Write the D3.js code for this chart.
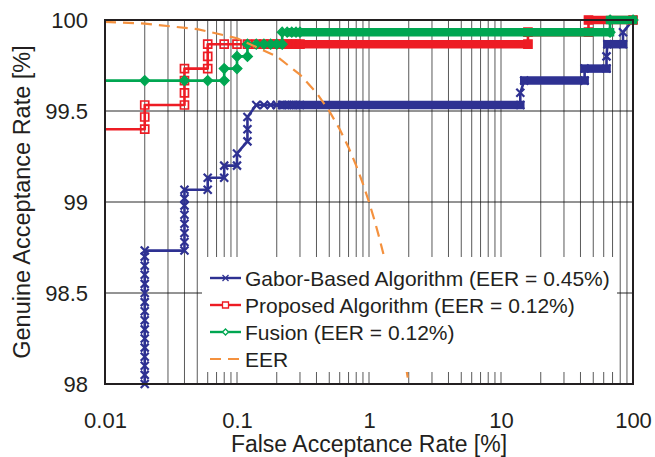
<!DOCTYPE html>
<html><head><meta charset="utf-8">
<script src="https://cdn.jsdelivr.net/npm/d3@7"></script>
<style>
html,body{margin:0;padding:0;background:#fff;}
svg{display:block;}
text{font-family:"Liberation Sans",Arial,sans-serif;fill:#231f20;}
</style></head><body>
<svg id="chart" width="655" height="457"></svg>
<script>
// ---------- data ----------
const xTickValues = [0.01, 0.1, 1, 10, 100];
const xTickLabels = ["0.01", "0.1", "1", "10", "100"];
const yTickValues = [98, 98.5, 99, 99.5, 100];
const yTickLabels = ["98", "98.5", "99", "99.5", "100"];
const seriesNames = ["Gabor-Based Algorithm (EER = 0.45%)", "Proposed Algorithm (EER = 0.12%)", "Fusion (EER = 0.12%)", "EER"];
const xTitle = "False Acceptance Rate [%]";
const yTitle = "Genuine Acceptance Rate [%]";

// Gabor-based algorithm: FAR (%) / GAR (%)
const gaborFAR = [0.02,0.02,0.02,0.02,0.02,0.02,0.02,0.02,0.02,0.02,0.02,0.02,0.02,0.02,0.02,0.02,
  0.04,0.04,0.04,0.04,0.04,0.04,0.04,0.04,
  0.06,0.06,0.08,0.08,0.10,0.10,0.12,0.12,0.12,
  0.14,0.16,0.18,0.20,0.22,0.24,0.26,0.28,0.30,
  14,14,15,43,43,63,63,64,84,84,100];
const gaborGAR = [98.00,98.05,98.10,98.15,98.20,98.25,98.30,98.35,98.40,98.45,98.50,98.55,98.60,98.65,98.70,98.733,
  98.733,98.78,98.83,98.88,98.93,98.98,99.02,99.067,
  99.067,99.133,99.133,99.20,99.20,99.267,99.333,99.40,99.467,
  99.533,99.533,99.533,99.533,99.533,99.533,99.533,99.533,99.533,
  99.533,99.60,99.667,99.667,99.733,99.733,99.80,99.867,99.867,99.933,100];
// dense runs of points: [FAR from, FAR to, GAR]
const gaborDense = [[0.22,14,99.533],[15,43,99.667],[43,63,99.733],[64,84,99.867]];

// Proposed algorithm
const propFAR = [0.01,0.02,0.02,0.02,0.04,0.04,0.04,0.04,0.06,0.06,0.06,
  0.08,0.10,0.12,0.14,0.16,0.18,0.20,0.22,0.24,0.26,0.28,0.30,
  16,16,46,46,100];
const propGAR = [99.40,99.40,99.467,99.533,99.533,99.60,99.667,99.733,99.733,99.80,99.867,
  99.867,99.867,99.867,99.867,99.867,99.867,99.867,99.867,99.867,99.867,99.867,99.867,
  99.867,99.933,99.933,100,100];
const propDense = [[0.18,16,99.867],[16,46,99.933],[46,100,100]];

// Fusion
const fusFAR = [0.01,0.02,0.04,0.06,0.08,0.08,0.10,0.10,0.12,0.12,
  0.14,0.16,0.18,0.20,0.22,0.22,0.24,0.26,0.28,0.30,67,67,100];
const fusGAR = [99.667,99.667,99.667,99.667,99.667,99.733,99.733,99.80,99.80,99.867,
  99.867,99.867,99.867,99.867,99.867,99.933,99.933,99.933,99.933,99.933,99.933,100,100];
const fusDense = [[0.26,67,99.933],[67,100,100]];

// EER line (FAR = FRR)
const eerFAR = [0.01,0.02,0.05,0.1,0.2,0.3,0.4,0.5,0.6,0.7,0.8,0.9,1.0,1.1,1.2,1.3,1.4,1.5,1.6,1.7,1.8,1.9,2.0,2.1];
const eerGAR = [99.99,99.98,99.95,99.9,99.8,99.7,99.6,99.5,99.4,99.3,99.2,99.1,99.0,98.9,98.8,98.7,98.6,98.5,98.4,98.3,98.2,98.1,98.0,97.9];

// ---------- chart ----------
const svg = d3.select("#chart");
const L = 105, R = 633, T = 20, B = 384;
const x = d3.scaleLog().domain([0.01, 100]).range([L, R]);
const y = d3.scaleLinear().domain([98, 100]).range([B, T]);

const colors = {gabor:"#2e3192", prop:"#ed1c24", fus:"#00a651", eer:"#f4913e"};

// grid
const grid = svg.append("g");
grid.selectAll("line.v").data(x.ticks()).join("line")
  .attr("x1", d => x(d)).attr("x2", d => x(d)).attr("y1", T).attr("y2", B)
  .attr("stroke", "#222").attr("stroke-width", 0.75);
grid.selectAll("line.h").data(yTickValues.slice(1, -1)).join("line")
  .attr("x1", L).attr("x2", R).attr("y1", d => y(d)).attr("y2", d => y(d))
  .attr("stroke", "#111").attr("stroke-width", 0.9);

// axes
const xAxis = d3.axisBottom(x).tickValues(xTickValues).tickSize(0).tickPadding(0)
  .tickFormat((d, i) => xTickLabels[i]);
const gx = svg.append("g").attr("transform", `translate(0,${B})`).call(xAxis);
gx.select(".domain").remove();
gx.selectAll("text").attr("y", 44).attr("dy", 0).style("font-size", "22px")
  .style("font-family", '"Liberation Sans",Arial,sans-serif').attr("fill", "#231f20");

const yAxis = d3.axisLeft(y).tickValues(yTickValues).tickSize(0).tickPadding(0)
  .tickFormat((d, i) => yTickLabels[i]);
const gy = svg.append("g").attr("transform", `translate(${L},0)`).call(yAxis);
gy.select(".domain").remove();
gy.selectAll("text").attr("x", -17).attr("dy", "0.36em").style("font-size", "22px")
  .style("font-family", '"Liberation Sans",Arial,sans-serif').attr("fill", "#231f20");

// titles
svg.append("text").attr("x", (L + R) / 2).attr("y", 452).attr("text-anchor", "middle")
  .style("font-size", "23px").text(xTitle);
svg.append("text").attr("transform", `translate(30,${(T + B) / 2}) rotate(-90)`)
  .attr("text-anchor", "middle").style("font-size", "23.5px").text(yTitle);

// marker paths
function markerPath(type, s) {
  const h = s / 2;
  if (type === "x") return `M${-h},${-h}L${h},${h}M${-h},${h}L${h},${-h}`;
  if (type === "square") return `M${-h},${-h}H${h}V${h}H${-h}Z`;
  if (type === "diamond") return `M0,${-h}L${h},0L0,${h}L${-h},0Z`;
}

const line = d3.line().x(d => x(d[0])).y(d => y(d[1]));
const series = [
  {key:"gabor", far:gaborFAR, gar:gaborGAR, dense:gaborDense, marker:"x", size:8, fill:"none", sw:2.2},
  {key:"prop", far:propFAR, gar:propGAR, dense:propDense, marker:"square", size:8, fill:"none", sw:1.7},
  {key:"fus", far:fusFAR, gar:fusGAR, dense:fusDense, marker:"diamond", size:10, fill:colors.fus, sw:1.2}
];

series.forEach(s => {
  const pts = s.far.map((f, i) => [f, s.gar[i]]);
  const g = svg.append("g");
  g.append("path").attr("d", line(pts)).attr("fill", "none")
    .attr("stroke", colors[s.key]).attr("stroke-width", 2.6).attr("stroke-linejoin", "round");
  g.selectAll("line.dense").data(s.dense).join("line")
    .attr("x1", d => x(d[0])).attr("x2", d => x(d[1]))
    .attr("y1", d => y(d[2])).attr("y2", d => y(d[2]))
    .attr("stroke", colors[s.key]).attr("stroke-width", 8.5).attr("stroke-linecap", "square");
  g.selectAll("path.m").data(pts.filter(p => p[0] > 0.01)).join("path")
    .attr("transform", d => `translate(${x(d[0])},${y(d[1])})`)
    .attr("d", markerPath(s.marker, s.size))
    .attr("fill", s.fill).attr("stroke", colors[s.key]).attr("stroke-width", s.sw);
});

// EER
const eerPts = eerFAR.map((f, i) => [f, eerGAR[i]]);
svg.append("clipPath").attr("id", "plotclip").append("rect")
  .attr("x", L).attr("y", T - 2).attr("width", R - L).attr("height", B - T + 2);
svg.append("path").attr("d", line(eerPts)).attr("clip-path", "url(#plotclip)")
  .attr("fill", "none").attr("stroke", colors.eer).attr("stroke-width", 2.2)
  .attr("stroke-dasharray", "11,7");

// frame
svg.append("rect").attr("x", L).attr("y", T).attr("width", R - L).attr("height", B - T)
  .attr("fill", "none").attr("stroke", "#231f20").attr("stroke-width", 2);

// legend
const lg = svg.append("g");
lg.append("rect").attr("x", 202).attr("y", 257).attr("width", 415).attr("height", 115).attr("fill", "#fff");
const legendItems = [
  {name:seriesNames[0], key:"gabor", marker:"x", size:6, fill:"none", sw:1.3},
  {name:seriesNames[1], key:"prop", marker:"square", size:6, fill:"#fff", sw:1.3},
  {name:seriesNames[2], key:"fus", marker:"diamond", size:6, fill:"#fff", sw:1.3},
  {name:seriesNames[3], key:"eer", marker:null}
];
legendItems.forEach((it, i) => {
  const cy = 278 + i * 27;
  const l = lg.append("line").attr("x1", 210).attr("x2", 241).attr("y1", cy).attr("y2", cy)
    .attr("stroke", colors[it.key]).attr("stroke-width", 2.4);
  if (!it.marker) l.attr("stroke-dasharray", "11,7").attr("stroke-width", 2.2);
  else lg.append("path").attr("transform", `translate(225.5,${cy})`)
    .attr("d", markerPath(it.marker, it.size)).attr("fill", it.fill)
    .attr("stroke", colors[it.key]).attr("stroke-width", it.sw);
  lg.append("text").attr("x", 245).attr("y", cy + 8).style("font-size", "21px").text(it.name);
});
</script>
</body></html>
